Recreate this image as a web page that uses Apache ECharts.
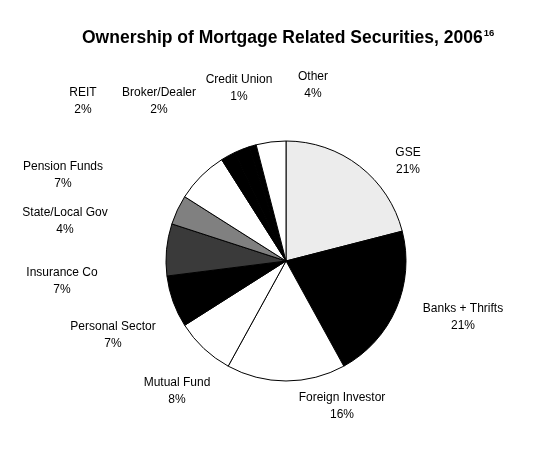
<!DOCTYPE html>
<html>
<head>
<meta charset="utf-8">
<script src="https://cdn.jsdelivr.net/npm/echarts@6/dist/echarts.min.js"></script>
<style>
html,body{margin:0;padding:0;background:#fff;}
#c{width:549px;height:460px;}
</style>
</head>
<body>
<div id="c"></div>
<script>
// Data (clockwise from 12 o'clock)
var categories = ['GSE', 'Banks + Thrifts', 'Foreign Investor', 'Mutual Fund', 'Personal Sector', 'Insurance Co', 'State/Local Gov', 'Pension Funds', 'REIT', 'Broker/Dealer', 'Credit Union', 'Other'];
var shares = [21, 21, 16, 8, 7, 7, 4, 7, 2, 2, 1, 4];

// Styling (separate from data)
var fills = ['#ececec', '#000000', '#ffffff', '#ffffff', '#000000', '#3a3a3a', '#808080', '#ffffff', '#000000', '#000000', '#000000', '#ffffff'];
// label anchor points (text centre, px)
var labelPos = [[408,161],[463,317],[342,406],[177,391],[113,335],[62,281],[65,221],[63,175],[83,101],[159,101],[239,88],[313,85]];

var chart = echarts.init(document.getElementById('c'), null, {renderer: 'canvas'});
var font = "'Liberation Sans', Arial, sans-serif";
chart.setOption({
  backgroundColor: '#fff',
  animation: false,
  title: {
    left: 77, top: 23,
    text: '{a|Ownership of Mortgage Related Securities, 2006}{s|16}',
    textStyle: {
      rich: {
        a: {fontFamily: font, fontSize: 17.5, fontWeight: 'bold', color: '#000'},
        s: {fontFamily: font, fontSize: 9.5, fontWeight: 'bold', color: '#000', padding: [0, 0, 10, 1]}
      }
    }
  },
  series: [{
    type: 'pie',
    center: [286, 261],
    radius: 120,
    startAngle: 90,
    clockwise: true,
    avoidLabelOverlap: false,
    data: categories.map(function (n, i) {
      return {name: n, value: shares[i], itemStyle: {color: fills[i]}};
    }),
    itemStyle: {borderColor: '#000', borderWidth: 1},
    emphasis: {disabled: true},
    label: {
      show: true,
      position: 'outside',
      formatter: '{b}\n{c}%',
      fontFamily: font,
      fontSize: 12,
      lineHeight: 17,
      color: '#000',
      align: 'center'
    },
    labelLine: {show: false},
    labelLayout: function (p) {
      var pos = labelPos[p.dataIndex];
      return {x: pos[0], y: pos[1], align: 'center', verticalAlign: 'middle'};
    }
  }]
});
</script>
</body>
</html>
